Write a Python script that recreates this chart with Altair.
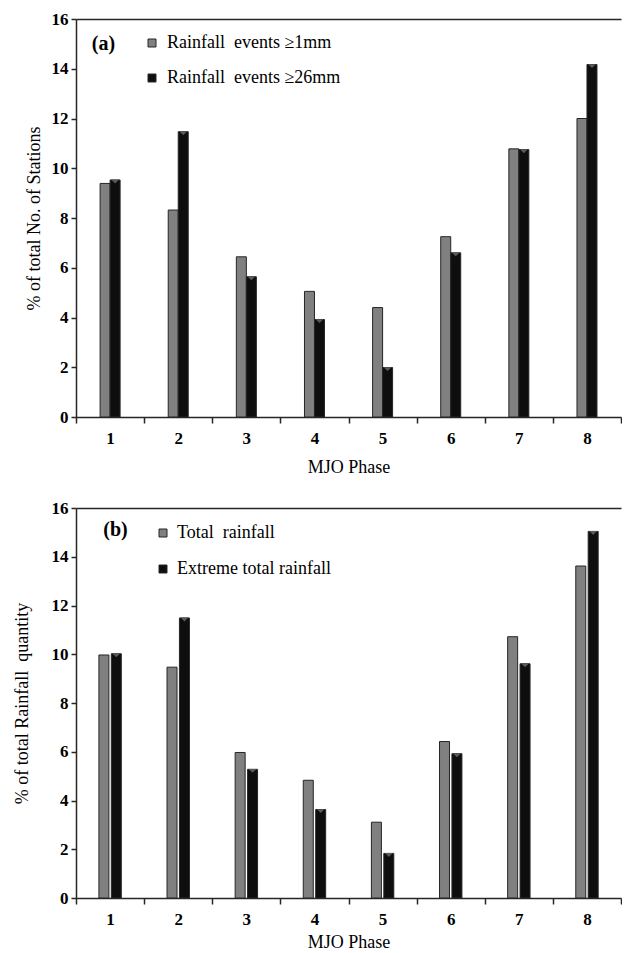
import altair as alt
import pandas as pd

phases = ["1", "2", "3", "4", "5", "6", "7", "8"]
a_1mm = [9.39, 8.32, 6.44, 5.05, 4.40, 7.25, 10.78, 12.00]
a_26mm = [9.53, 11.47, 5.64, 3.92, 1.99, 6.60, 10.75, 14.17]
b_total = [9.97, 9.47, 5.97, 4.83, 3.11, 6.42, 10.72, 13.62]
b_extreme = [10.02, 11.49, 5.28, 3.63, 1.83, 5.92, 9.61, 15.04]

label_a1 = "Rainfall\u00a0 events \u22651mm"
label_a2 = "Rainfall\u00a0 events \u226526mm"
label_b1 = "Total\u00a0 rainfall"
label_b2 = "Extreme total rainfall"
y_ticks = [0, 2, 4, 6, 8, 10, 12, 14, 16]

GRAY = "#808080"
BLACK = "#0e0e0e"
EDGE = "#262626"
FONT = "Liberation Serif"
W = 545
SPACER = -63


def panel(v1, v2, l1, l2, ytitle, tag, tagx, tagy, height,
          legx, legy, inner, orange, ytp, xtp, lofs, rpad):
    df = pd.DataFrame({
        "phase": phases * 2,
        "series": [l1] * 8 + [l2] * 8,
        "value": v1 + v2,
    })
    xscale = alt.Scale(domain=phases, paddingInner=0, paddingOuter=0)
    xoff = alt.XOffset("series:N", sort=[l1, l2],
                       scale=alt.Scale(domain=[l1, l2], paddingInner=inner,
                                       paddingOuter=0, range=orange))
    yscale = alt.Scale(domain=[0, 16], nice=False)
    bars = alt.Chart(df).mark_bar(stroke=EDGE, strokeWidth=1).encode(
        x=alt.X("phase:N", scale=xscale, sort=phases,
                axis=alt.Axis(title="MJO Phase", labelAngle=0, tickBand="extent",
                              tickSize=6, labelPadding=7, titlePadding=xtp,
                              labelFont=FONT, labelFontSize=17, labelFontWeight="bold",
                              titleFont=FONT, titleFontSize=18, titleFontWeight="normal",
                              domainColor=EDGE, tickColor=EDGE, domainWidth=1.5,
                              tickWidth=1.5, labelColor="black", titleColor="black")),
        xOffset=xoff,
        y=alt.Y("value:Q", scale=yscale,
                axis=alt.Axis(title=ytitle, values=y_ticks, tickSize=5,
                              labelPadding=3, titlePadding=ytp, grid=False,
                              labelFont=FONT, labelFontSize=17, labelFontWeight="bold",
                              titleFont=FONT, titleFontSize=18, titleFontWeight="normal",
                              domainColor=EDGE, tickColor=EDGE, domainWidth=1.5,
                              tickWidth=1.5, labelColor="black", titleColor="black")),
        color=alt.Color("series:N", sort=[l1, l2],
                        scale=alt.Scale(domain=[l1, l2], range=[GRAY, BLACK]),
                        legend=alt.Legend(title=None, orient="none", legendX=legx,
                                          legendY=legy, symbolType="square",
                                          symbolSize=64, symbolStrokeColor=EDGE,
                                          symbolStrokeWidth=1, labelFont=FONT,
                                          labelFontSize=18, labelColor="black",
                                          labelLimit=400, labelOffset=lofs,
                                          rowPadding=rpad)),
    )
    caps = alt.Chart(df).transform_filter(
        alt.datum.series == l2
    ).mark_point(shape="M-1,-0.6L1,-0.6L0,0.4Z", filled=True, color="#5a5a5a",
                 size=60, yOffset=2, opacity=1).encode(
        x=alt.X("phase:N", scale=xscale, sort=phases,
                axis=alt.Axis(orient="top", labels=False, ticks=False, title=None,
                              domainColor=EDGE, domainWidth=1.5)),
        xOffset=xoff,
        y=alt.Y("value:Q", scale=yscale),
    )
    one = pd.DataFrame({"t": [tag]})
    label = alt.Chart(one).mark_text(
        font=FONT, fontSize=20, fontWeight="bold", color="black").encode(
        text="t:N", x=alt.value(tagx), y=alt.value(tagy))
    pad = alt.Chart(one).mark_rule(opacity=0, strokeWidth=1).encode(
        x=alt.value(SPACER), x2=alt.value(SPACER + 1),
        y=alt.value(0), y2=alt.value(1))
    return alt.layer(bars, caps, label, pad).resolve_axis(x="independent").properties(
        width=W, height=height)


top = panel(a_1mm, a_26mm, label_a1, label_a2, "% of total No. of Stations",
            "(a)", 27.5, 25, 398, 67, 15, 0.0, [24.1, 44.1], 8, 12, 6, 17)
bottom = panel(b_total, b_extreme, label_b1, label_b2,
               "% of total Rainfall\u00a0 quantity", "(b)", 39.5, 22, 390,
               78, 16, 0.194, [22.9, 45.3], 20, 6, 5, 18)

chart = alt.vconcat(top, bottom, spacing=23).resolve_scale(
    x="independent", y="independent", color="independent", xOffset="independent"
).resolve_legend(color="independent").properties(
    padding={"left": 5, "top": 2, "right": 0, "bottom": 0}
).configure_view(stroke=None)

chart.save("out.html", embed_options={"renderer": "svg", "actions": False})
